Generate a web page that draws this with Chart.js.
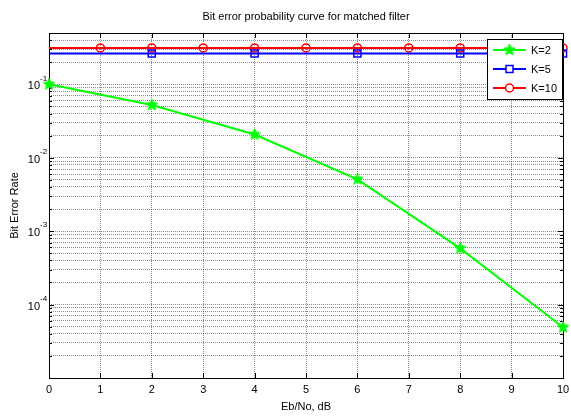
<!DOCTYPE html>
<html>
<head>
<meta charset="utf-8">
<script src="https://cdn.jsdelivr.net/npm/chart.js@4.4.0/dist/chart.umd.min.js"></script>
<style>
  html, body { margin: 0; padding: 0; background: #fff; }
  canvas { display: block; }
</style>
</head>
<body>
<canvas id="myChart" width="571" height="416"></canvas>
<script>
// Eb/No in dB
const ebno = [0, 1, 2, 3, 4, 5, 6, 7, 8, 9, 10];
// bit error rate per number of users K (null = no sample there)
const berK2 = [0.1, null, 0.0522, null, 0.0207, null, 0.00508, null, 0.000583, null, 0.000049];
const berK5 = [0.263, 0.263, 0.263, 0.263, 0.263, 0.263, 0.263, 0.263, 0.263, 0.263, 0.263];
const berK10 = [0.313, 0.313, 0.313, 0.313, 0.313, 0.313, 0.313, 0.313, 0.313, 0.313, 0.313];
// where markers sit on each curve
const markK2 = [0, 2, 4, 6, 8, 10];
const markK5 = [2, 4, 6, 8, 10];
const markK10 = [1, 2, 3, 4, 5, 6, 7, 8, 9, 10];
const seriesNames = ['K=2', 'K=5', 'K=10'];
const xTickLabels = ['0', '1', '2', '3', '4', '5', '6', '7', '8', '9', '10'];
const yLabelExps = [-1, -2, -3, -4];
const yMin = 1e-5, yMax = 0.5;

const FONT = '"Liberation Sans", Arial, Helvetica, sans-serif';

// log ticks 1..9 x 10^k, up to the top limit
const yTicks = [];
for (let k = -5; k <= -1; k++) {
    for (let m = 1; m <= 9; m++) {
        const v = m * Math.pow(10, k);
        if (v <= yMax * 1.0001) yTicks.push(v);
    }
}

function makeStar(color, r) {
    const c = document.createElement('canvas');
    const s = Math.ceil(r * 2 + 2);
    c.width = s; c.height = s;
    const g = c.getContext('2d');
    g.beginPath();
    for (let i = 0; i < 10; i++) {
        const rad = i % 2 ? r * 0.45 : r;
        const ang = -Math.PI / 2 + i * Math.PI / 5;
        g.lineTo(s / 2 + rad * Math.cos(ang), s / 2 + rad * Math.sin(ang));
    }
    g.closePath();
    g.fillStyle = color;
    g.fill();
    g.strokeStyle = color;
    g.lineWidth = 1;
    g.stroke();
    return c;
}
const starImg = makeStar('#00ff00', 6);

function pts(ys) {
    return ebno.map((e, i) => ({ x: e, y: ys[i] }));
}
function markerRadius(marks, r) {
    return function(ctx) {
        return ctx.raw && marks.includes(ctx.raw.x) ? r : 0;
    };
}

const data = {
    datasets: [{
        label: seriesNames[0],
        data: pts(berK2),
        borderColor: '#00ff00',
        backgroundColor: '#00ff00',
        borderWidth: 2,
        pointStyle: starImg,
        pointRadius: markerRadius(markK2, 6),
        spanGaps: true,
        clip: false
    }, {
        label: seriesNames[1],
        data: pts(berK5),
        borderColor: '#0000ff',
        backgroundColor: 'rgba(0,0,0,0)',
        borderWidth: 2,
        pointStyle: 'rect',
        pointRadius: markerRadius(markK5, 5),
        pointBorderWidth: 1.5,
        clip: false
    }, {
        label: seriesNames[2],
        data: pts(berK10),
        borderColor: '#ff0000',
        backgroundColor: 'rgba(0,0,0,0)',
        borderWidth: 2,
        pointStyle: 'circle',
        pointRadius: markerRadius(markK10, 4),
        pointBorderWidth: 1.5,
        clip: false
    }]
};

// matlab-like box, inner ticks, labels and legend
const matlabAxes = {
    id: 'matlabAxes',
    beforeDatasetsDraw(chart) {
        const { ctx, chartArea: a, scales: { x, y } } = chart;
        ctx.save();
        ctx.strokeStyle = '#000';
        ctx.lineWidth = 1;
        ctx.beginPath();
        ebno.forEach(v => {
            const px = Math.round(x.getPixelForValue(v)) + 0.5;
            ctx.moveTo(px, a.bottom); ctx.lineTo(px, a.bottom - 5);
            ctx.moveTo(px, a.top); ctx.lineTo(px, a.top + 5);
        });
        yTicks.forEach(v => {
            const py = Math.round(y.getPixelForValue(v)) + 0.5;
            const len = Math.abs(Math.log10(v) - Math.round(Math.log10(v))) < 1e-6 ? 5 : 3;
            ctx.moveTo(a.left, py); ctx.lineTo(a.left + len, py);
            ctx.moveTo(a.right, py); ctx.lineTo(a.right - len, py);
        });
        ctx.stroke();
        ctx.strokeRect(Math.round(a.left) + 0.5, Math.round(a.top) + 0.5,
            Math.round(a.right - a.left), Math.round(a.bottom - a.top));
        ctx.restore();
    },
    afterDraw(chart) {
        const { ctx, chartArea: a, scales: { x, y } } = chart;
        ctx.save();
        ctx.fillStyle = '#000';

        // x tick labels
        ctx.font = '11px ' + FONT;
        ctx.textAlign = 'center';
        ctx.textBaseline = 'middle';
        ebno.forEach((v, i) => {
            ctx.fillText(xTickLabels[i], x.getPixelForValue(v), a.bottom + 12);
        });

        // y tick labels 10^k
        yLabelExps.forEach(k => {
            const py = y.getPixelForValue(Math.pow(10, k));
            ctx.font = '11px ' + FONT;
            ctx.textAlign = 'right';
            ctx.fillText('10', a.left - 9, py + 2);
            ctx.font = '8px ' + FONT;
            ctx.textAlign = 'left';
            ctx.fillText(String(k), a.left - 9, py - 6);
        });

        // axis titles
        ctx.font = '11px ' + FONT;
        ctx.textAlign = 'center';
        ctx.fillText('Eb/No, dB', (a.left + a.right) / 2, a.bottom + 29);
        ctx.save();
        ctx.translate(15, (a.top + a.bottom) / 2);
        ctx.rotate(-Math.PI / 2);
        ctx.fillText('Bit Error Rate', 0, 0);
        ctx.restore();

        // title
        ctx.fillText('Bit error probability curve for matched filter', (a.left + a.right) / 2, 17);

        // legend
        const lx = 487, ly = 39, lw = 75, lh = 60;
        ctx.fillStyle = '#fff';
        ctx.fillRect(lx, ly, lw, lh);
        ctx.strokeStyle = '#000';
        ctx.lineWidth = 1;
        ctx.strokeRect(lx + 0.5, ly + 0.5, lw, lh);
        chart.data.datasets.forEach((ds, i) => {
            const cy = ly + 11 + i * 19;
            ctx.strokeStyle = ds.borderColor;
            ctx.lineWidth = 2;
            ctx.beginPath();
            ctx.moveTo(lx + 6, cy); ctx.lineTo(lx + 39, cy);
            ctx.stroke();
            const cx = lx + 22.5;
            ctx.lineWidth = 1.5;
            if (i === 0) {
                ctx.drawImage(starImg, cx - starImg.width / 2, cy - starImg.height / 2);
            } else if (i === 1) {
                ctx.fillStyle = '#fff';
                ctx.fillRect(cx - 3.5, cy - 3.5, 7, 7);
                ctx.strokeRect(cx - 3.5, cy - 3.5, 7, 7);
            } else {
                ctx.fillStyle = '#fff';
                ctx.beginPath();
                ctx.arc(cx, cy, 4, 0, Math.PI * 2);
                ctx.fill();
                ctx.stroke();
            }
            ctx.fillStyle = '#000';
            ctx.font = '11px ' + FONT;
            ctx.textAlign = 'left';
            ctx.textBaseline = 'middle';
            ctx.fillText(ds.label, lx + 44, cy + 1);
        });
        ctx.restore();
    }
};

const gridColor = 'rgba(0,0,0,0.45)';

const config = {
    type: 'line',
    data: data,
    options: {
        responsive: false,
        animation: false,
        devicePixelRatio: 1,
        events: [],
        layout: { padding: { top: 33, right: 5, left: 0, bottom: 0 } },
        scales: {
            x: {
                type: 'linear',
                min: 0,
                max: 10,
                ticks: { display: false, stepSize: 1 },
                grid: { color: gridColor, drawTicks: false, lineWidth: 1 },
                border: { display: false, dash: [1, 1] },
                afterFit(s) { s.height = 38; }
            },
            y: {
                type: 'logarithmic',
                min: yMin,
                max: yMax,
                afterBuildTicks(s) { s.ticks = yTicks.map(v => ({ value: v })); },
                ticks: { display: false },
                grid: { color: gridColor, drawTicks: false, lineWidth: 1 },
                border: { display: false, dash: [1, 1] },
                afterFit(s) { s.width = 49; }
            }
        },
        plugins: {
            legend: { display: false },
            title: { display: false },
            tooltip: { enabled: false }
        }
    },
    plugins: [matlabAxes]
};

const myChart = new Chart(document.getElementById('myChart'), config);
</script>
</body>
</html>
